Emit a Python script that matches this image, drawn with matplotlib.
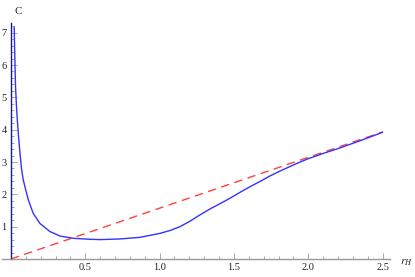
import matplotlib
matplotlib.use("Agg")
import matplotlib.pyplot as plt
from matplotlib.ticker import MultipleLocator, FixedLocator

# heat capacity C versus horizon radius r_H
r_blue = [0.022, 0.026, 0.031, 0.037, 0.043, 0.052, 0.061, 0.072, 0.083, 0.094,
          0.117, 0.15, 0.195, 0.262, 0.33, 0.42, 0.53, 0.6, 0.733, 0.868,
          1.0, 1.07, 1.137, 1.205, 1.27, 1.34, 1.41, 1.474, 1.54, 1.61,
          1.68, 1.743, 1.81, 1.877, 1.94, 2.01, 2.11, 2.21, 2.35, 2.5]
C_blue = [7.17, 6.3, 5.33, 4.75, 4.3, 3.75, 3.27, 2.76, 2.45, 2.24,
          1.83, 1.41, 1.1, 0.85, 0.71, 0.64, 0.61, 0.6, 0.62, 0.67,
          0.79, 0.88, 1.0, 1.17, 1.36, 1.55, 1.72, 1.88, 2.06, 2.24,
          2.41, 2.57, 2.72, 2.86, 2.99, 3.12, 3.28, 3.43, 3.66, 3.92]

r_red = [0.0, 2.5]
C_red = [0.0, 3.93]

xticks = [0.5, 1.0, 1.5, 2.0, 2.5]
yticks = [1, 2, 3, 4, 5, 6, 7]

plt.rcParams['font.family'] = ['Liberation Serif', 'DejaVu Serif']
plt.rcParams['mathtext.fontset'] = 'stix'

fig = plt.figure(figsize=(4.15, 2.77), dpi=100)
ax = fig.add_axes([2 / 415, 18 / 277, 388 / 415, 236 / 277])

ax.plot(r_blue, C_blue, color=(0.2, 0.2, 1.0), lw=1.0, zorder=3)
ax.plot(r_red, C_red, color=(1.0, 0.25, 0.25), lw=1.0, dashes=(6, 4), zorder=2)

ax.set_xlim(-0.06, 2.55)
ax.set_ylim(0, 7.3)

for s in ['top', 'right']:
    ax.spines[s].set_visible(False)
ax.spines['left'].set_position(('data', 0))
ax.spines['bottom'].set_position(('data', 0))
ax.spines['left'].set_color('#1a1a80')
ax.spines['bottom'].set_color('#999999')
ax.spines['left'].set_linewidth(1.0)
ax.spines['bottom'].set_linewidth(1.0)

ax.xaxis.set_major_locator(FixedLocator(xticks))
ax.xaxis.set_minor_locator(MultipleLocator(0.1))
ax.yaxis.set_major_locator(FixedLocator(yticks))
ax.yaxis.set_minor_locator(MultipleLocator(0.2))
ax.set_xticklabels(['0.5', '1.0', '1.5', '2.0', '2.5'])
ax.set_yticklabels([str(v) for v in yticks])

ax.tick_params(which='both', direction='in', color='#999999', width=0.6,
               labelsize=7.5, labelcolor='#222222')
ax.tick_params(which='major', length=4, pad=3)
ax.tick_params(which='minor', length=2.2)

fig.text(14 / 415, 1 - 12 / 277, 'C', fontsize=8, va='center', ha='left',
         color='#222222')
fig.text(400 / 415, 1 - 262 / 277, r'$r_H$', fontsize=8.5, va='center',
         ha='left', color='#222222')

fig.savefig('out.png', dpi=100)
